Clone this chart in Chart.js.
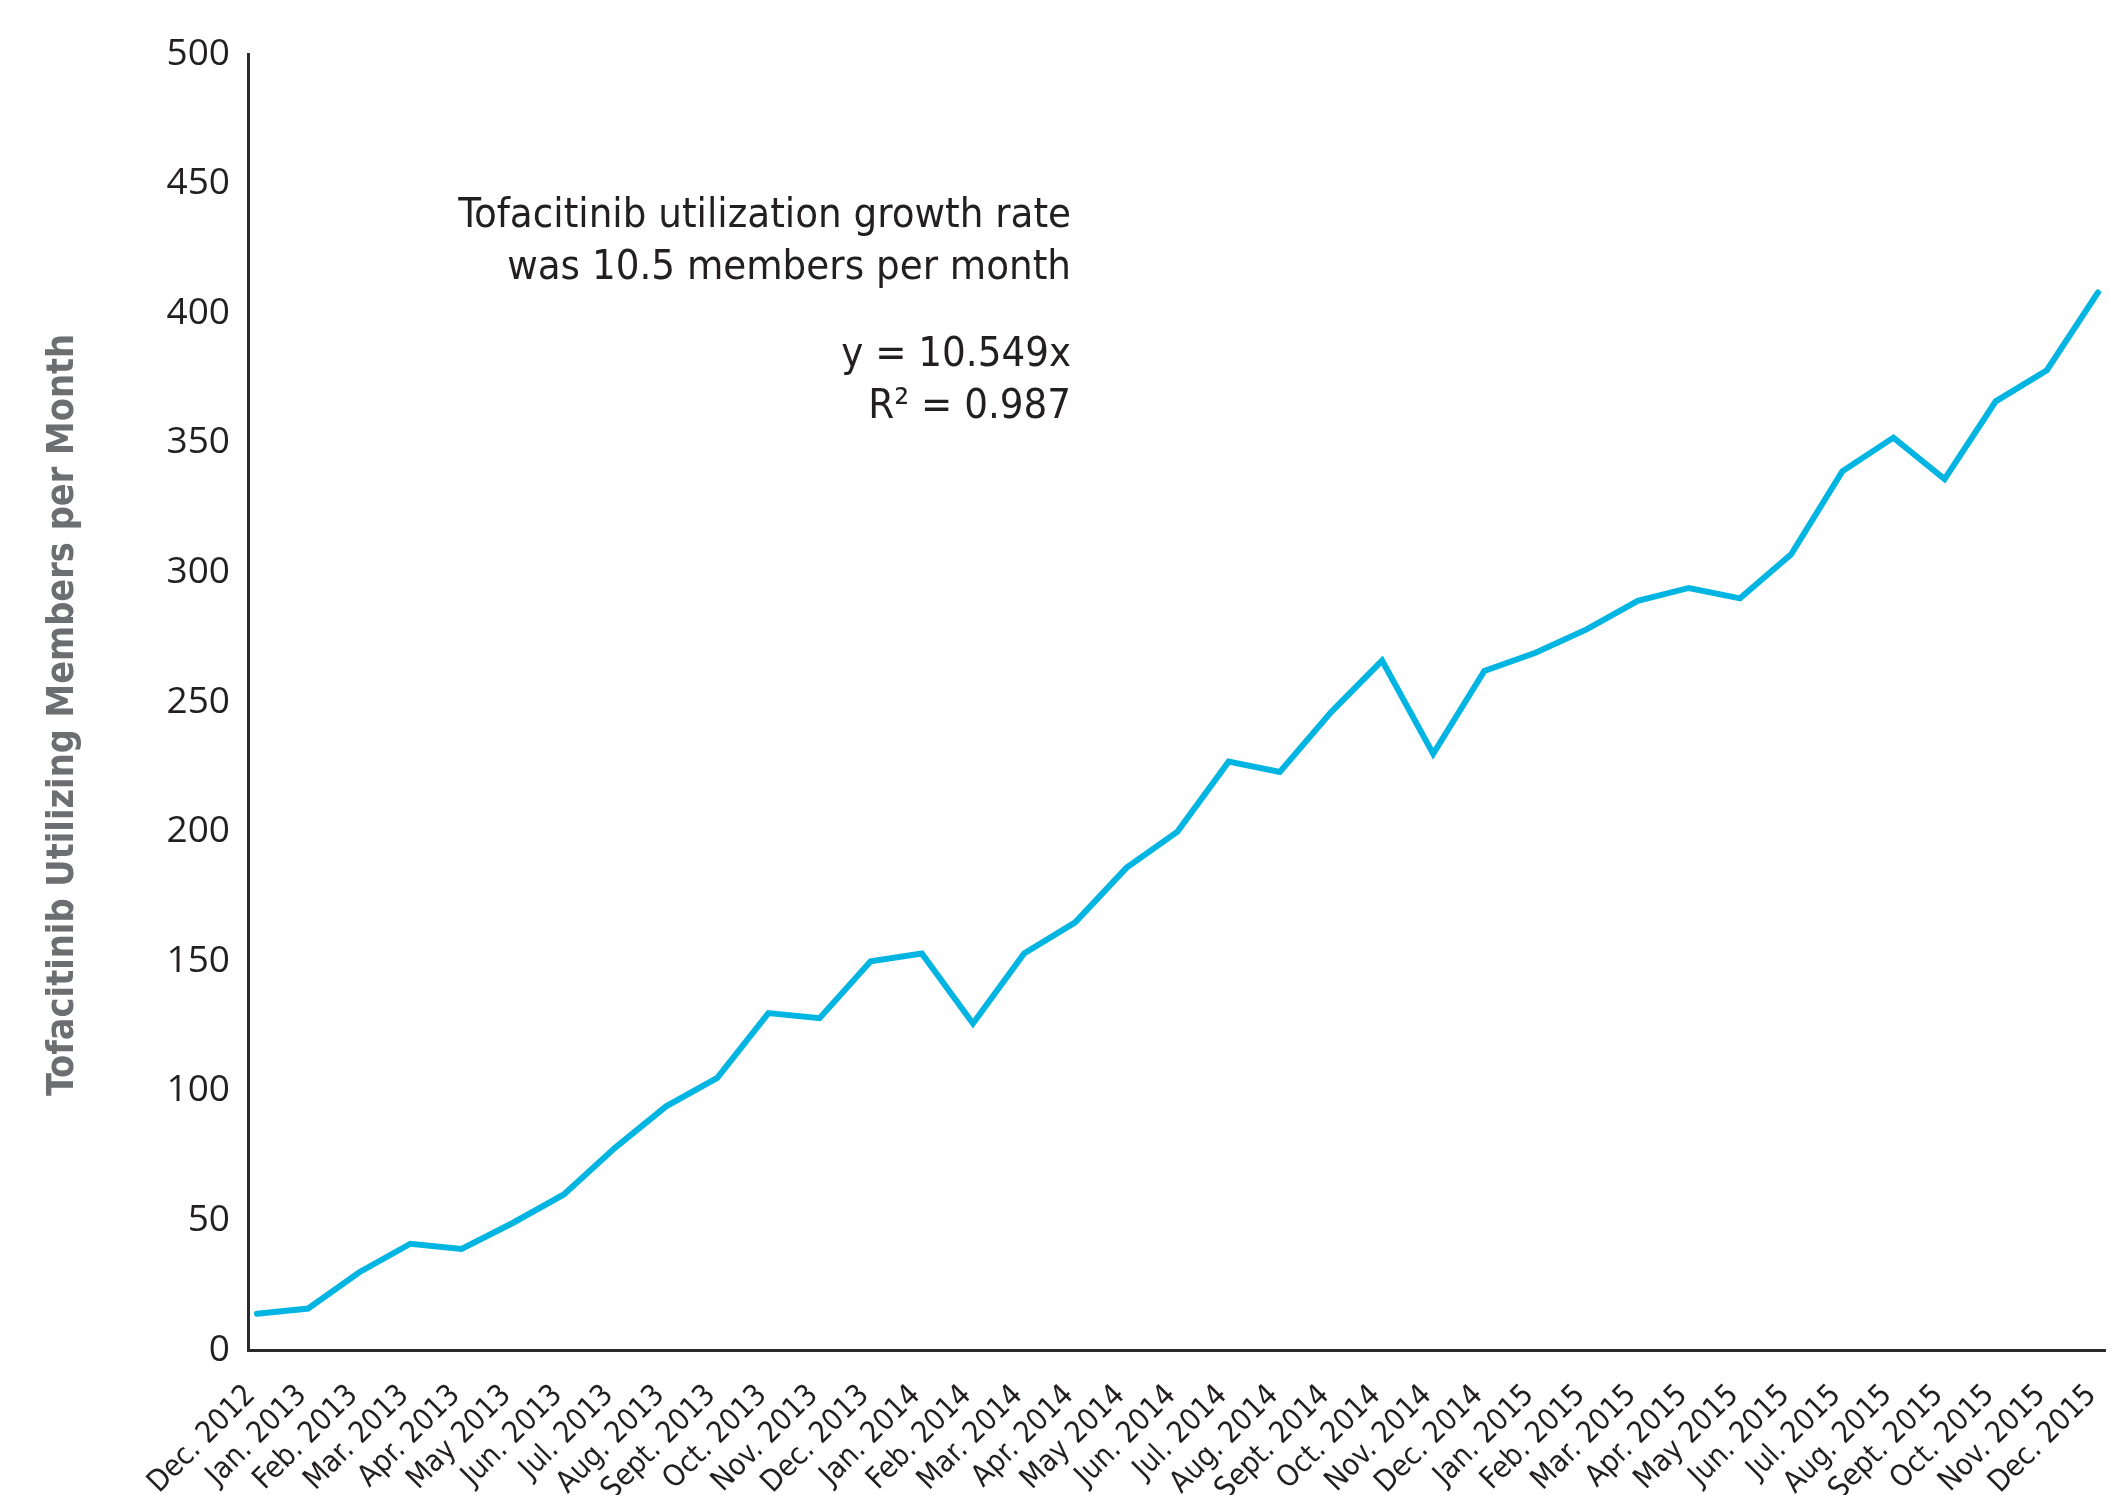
<!DOCTYPE html>
<html>
<head>
<meta charset="utf-8">
<script src="https://cdn.jsdelivr.net/npm/chart.js@4.4.1/dist/chart.umd.min.js"></script>
<style>
  html, body { margin: 0; padding: 0; background: #fff; }
  #wrap { width: 2109px; height: 1495px; }
</style>
</head>
<body>
<div id="wrap"><canvas id="myChart"></canvas></div>
<script>
const months = [
  "Dec. 2012",
  "Jan. 2013", "Feb. 2013", "Mar. 2013", "Apr. 2013", "May 2013", "Jun. 2013",
  "Jul. 2013", "Aug. 2013", "Sept. 2013", "Oct. 2013", "Nov. 2013", "Dec. 2013",
  "Jan. 2014", "Feb. 2014", "Mar. 2014", "Apr. 2014", "May 2014", "Jun. 2014",
  "Jul. 2014", "Aug. 2014", "Sept. 2014", "Oct. 2014", "Nov. 2014", "Dec. 2014",
  "Jan. 2015", "Feb. 2015", "Mar. 2015", "Apr. 2015", "May 2015", "Jun. 2015",
  "Jul. 2015", "Aug. 2015", "Sept. 2015", "Oct. 2015", "Nov. 2015", "Dec. 2015"
]
const members = [
  14, 16, 30, 41, 39, 49, 60, 78, 94, 105, 130, 128, 150,
  153, 126, 153, 165, 186, 200, 227, 223, 246, 266, 230, 262,
  269, 278, 289, 294, 290, 307, 339, 352, 336, 366, 378, 408
]
const yTicks = [0, 50, 100, 150, 200, 250, 300, 350, 400, 450, 500]
const yTitle = "Tofacitinib Utilizing Members per Month"
const noteLines = [
  "Tofacitinib utilization growth rate",
  "was 10.5 members per month",
  "",
  "y = 10.549x",
  "R\u00B2 = 0.987"
]

const narrow = "'Liberation Sans Narrow', 'DejaVu Sans Condensed', sans-serif"
const ink = "#231f20"

// anotacion y titulo del eje y
const nota = {
  id: "nota",
  afterDraw(chart) {
    const ctx = chart.ctx
    ctx.save()
    ctx.fillStyle = ink
    ctx.font = "41.5px " + narrow
    ctx.textAlign = "right"
    ctx.textBaseline = "middle"
    const ys = [216, 268, 0, 355, 407]
    noteLines.forEach((t, i) => {
      if (t) ctx.fillText(t, 1071, ys[i])
    })
    ctx.restore()

    ctx.save()
    ctx.translate(63, 715)
    ctx.rotate(-Math.PI / 2)
    ctx.fillStyle = "#6d6e71"
    ctx.font = "bold 37.5px " + narrow
    ctx.textAlign = "center"
    ctx.textBaseline = "middle"
    ctx.fillText(yTitle, 0, 0)
    ctx.restore()
  }
}

const pintarGrafica = () => {
  new Chart(document.getElementById("myChart"), {
    type: "line",
    data: {
      datasets: [
        {
          data: members.map((v, i) => ({ x: i, y: v })),
          borderColor: "#00b5e2",
          borderWidth: 6,
          borderCapStyle: "round",
          borderJoinStyle: "miter",
          pointRadius: 0,
          tension: 0,
          fill: false,
        },
      ],
    },
    options: {
      responsive: true,
      maintainAspectRatio: false,
      animation: false,
      layout: { padding: { top: 54, right: 4, left: 0, bottom: 0 } },
      plugins: { legend: { display: false }, tooltip: { enabled: false } },
      scales: {
        x: {
          type: "linear",
          min: -0.176,
          max: 36.137,
          afterBuildTicks: (s) => { s.ticks = months.map((m, i) => ({ value: i })) },
          afterFit: (s) => {
            s.height = 145
            s.paddingLeft = 0
            s.paddingRight = 0
          },
          grid: { display: false },
          border: { color: "#2b2b2b", width: 3 },
          ticks: {
            autoSkip: false,
            maxRotation: 45,
            minRotation: 45,
            padding: 20,
            labelOffset: -6,
            color: ink,
            font: { family: narrow, size: 30 },
            callback: (v) => months[v],
          },
        },
        y: {
          min: 0,
          max: 500,
          afterBuildTicks: (s) => { s.ticks = yTicks.map((v) => ({ value: v })) },
          afterFit: (s) => { s.width = 248 },
          grid: { display: false },
          border: { color: "#2b2b2b", width: 3 },
          ticks: {
            padding: 10,
            color: ink,
            font: { family: "'Open Sans', sans-serif", size: 37 },
          },
        },
      },
    },
    plugins: [nota],
  })
}

window.addEventListener("load", pintarGrafica)
</script>
</body>
</html>
